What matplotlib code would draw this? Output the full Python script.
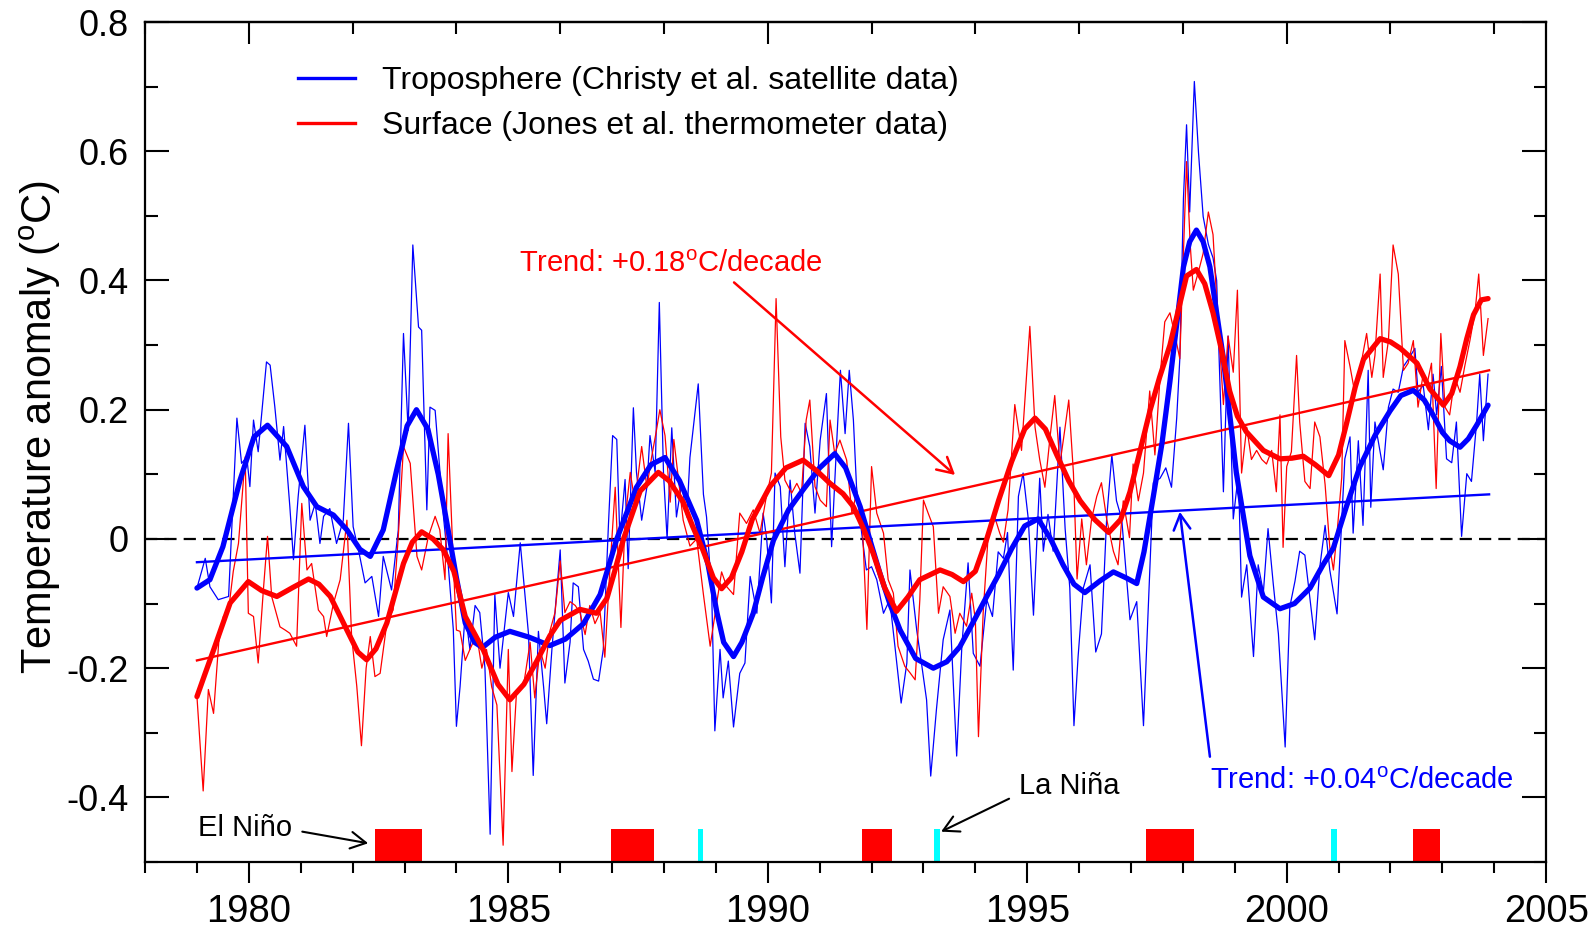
import matplotlib
matplotlib.use("Agg")
import matplotlib.pyplot as plt
from matplotlib.lines import Line2D
from matplotlib.ticker import MultipleLocator, FuncFormatter

plt.rcParams['font.family'] = ['Liberation Sans', 'DejaVu Sans']
plt.rcParams['mathtext.fontset'] = 'custom'
plt.rcParams['mathtext.rm'] = 'Liberation Sans'
plt.rcParams['axes.unicode_minus'] = False

# monthly-ish anomalies (deg C)
tropo_years = [
    1979.00, 1979.16, 1979.25, 1979.41, 1979.61, 1979.77, 1979.86, 1979.96, 1980.02, 1980.09,
    1980.18, 1980.34, 1980.41, 1980.50, 1980.60, 1980.67, 1980.79, 1980.86, 1980.95, 1981.08,
    1981.18, 1981.28, 1981.37, 1981.44, 1981.56, 1981.69, 1981.82, 1981.92, 1982.01, 1982.12,
    1982.24, 1982.37, 1982.50, 1982.59, 1982.75, 1982.88, 1982.98, 1983.07, 1983.16, 1983.27,
    1983.33, 1983.43, 1983.49, 1983.59, 1983.75, 1983.84, 1983.94, 1984.00, 1984.07, 1984.17,
    1984.26, 1984.36, 1984.45, 1984.55, 1984.65, 1984.74, 1984.84, 1985.00, 1985.10, 1985.23,
    1985.32, 1985.39, 1985.48, 1985.58, 1985.68, 1985.74, 1985.84, 1986.00, 1986.09, 1986.19,
    1986.25, 1986.35, 1986.45, 1986.54, 1986.64, 1986.74, 1986.83, 1986.93, 1987.01, 1987.09,
    1987.15, 1987.25, 1987.31, 1987.41, 1987.47, 1987.57, 1987.67, 1987.73, 1987.83, 1987.91,
    1987.99, 1988.06, 1988.15, 1988.24, 1988.34, 1988.44, 1988.50, 1988.66, 1988.76, 1988.82,
    1988.92, 1988.98, 1989.08, 1989.14, 1989.24, 1989.34, 1989.46, 1989.56, 1989.66, 1989.79,
    1989.91, 1989.98, 1990.07, 1990.14, 1990.24, 1990.33, 1990.43, 1990.52, 1990.62, 1990.72,
    1990.81, 1990.91, 1991.01, 1991.13, 1991.23, 1991.33, 1991.40, 1991.49, 1991.57, 1991.65,
    1991.71, 1991.81, 1991.90, 1992.00, 1992.10, 1992.23, 1992.35, 1992.45, 1992.57, 1992.68,
    1992.74, 1992.87, 1992.97, 1993.06, 1993.14, 1993.25, 1993.38, 1993.51, 1993.64, 1993.74,
    1993.86, 1993.96, 1994.09, 1994.22, 1994.33, 1994.44, 1994.54, 1994.62, 1994.73, 1994.83,
    1994.92, 1995.02, 1995.12, 1995.24, 1995.31, 1995.40, 1995.50, 1995.63, 1995.73, 1995.82,
    1995.90, 1995.98, 1996.08, 1996.21, 1996.32, 1996.43, 1996.53, 1996.63, 1996.72, 1996.82,
    1996.98, 1997.11, 1997.24, 1997.33, 1997.43, 1997.56, 1997.67, 1997.78, 1997.88, 1997.94,
    1998.01, 1998.07, 1998.13, 1998.22, 1998.30, 1998.39, 1998.49, 1998.58, 1998.65, 1998.78,
    1998.87, 1998.97, 1999.07, 1999.13, 1999.23, 1999.36, 1999.45, 1999.55, 1999.64, 1999.74,
    1999.84, 1999.97, 2000.06, 2000.16, 2000.25, 2000.35, 2000.45, 2000.54, 2000.64, 2000.74,
    2000.83, 2000.97, 2001.06, 2001.12, 2001.22, 2001.28, 2001.38, 2001.47, 2001.57, 2001.62,
    2001.70, 2001.80, 2001.86, 2001.96, 2002.05, 2002.15, 2002.25, 2002.36, 2002.47, 2002.53,
    2002.63, 2002.73, 2002.82, 2002.89, 2002.98, 2003.08, 2003.18, 2003.27, 2003.37, 2003.47,
    2003.56, 2003.66, 2003.72, 2003.79, 2003.88,
]
tropo_vals = [
    -0.076, -0.030, -0.074, -0.094, -0.089, 0.187, 0.117, 0.127, 0.081, 0.184,
    0.135, 0.274, 0.269, 0.205, 0.122, 0.174, 0.050, -0.032, 0.065, 0.176,
    0.029, 0.055, -0.007, 0.035, 0.047, -0.007, 0.029, 0.179, 0.019, -0.020,
    -0.068, -0.058, -0.120, -0.027, -0.079, 0.014, 0.318, 0.168, 0.455, 0.328,
    0.323, 0.045, 0.204, 0.199, 0.035, -0.038, -0.140, -0.290, -0.229, -0.114,
    -0.171, -0.103, -0.114, -0.200, -0.457, -0.086, -0.200, -0.083, -0.120, -0.006,
    -0.086, -0.148, -0.366, -0.143, -0.229, -0.286, -0.171, -0.017, -0.223, -0.160,
    -0.068, -0.074, -0.171, -0.189, -0.217, -0.220, -0.171, 0.023, 0.160, 0.154,
    0.000, 0.092, -0.046, 0.203, 0.103, 0.029, 0.080, 0.160, 0.103, 0.366,
    0.103, 0.000, 0.172, 0.034, 0.086, 0.034, 0.126, 0.240, 0.069, 0.034,
    -0.086, -0.297, -0.171, -0.246, -0.189, -0.291, -0.208, -0.192, -0.058, -0.115,
    0.040, -0.001, -0.099, 0.102, 0.081, -0.043, 0.091, 0.009, -0.053, 0.179,
    0.143, 0.040, 0.153, 0.225, -0.012, 0.153, 0.261, 0.163, 0.261, 0.184,
    0.081, 0.009, -0.048, -0.043, -0.063, -0.115, -0.094, -0.166, -0.254, -0.192,
    -0.048, -0.141, -0.197, -0.249, -0.367, -0.264, -0.156, -0.110, -0.336, -0.166,
    -0.037, -0.177, -0.197, -0.094, -0.120, -0.020, -0.030, 0.010, -0.203, 0.066,
    0.102, 0.031, -0.118, 0.094, -0.019, 0.038, -0.019, 0.173, 0.016, -0.076,
    -0.289, -0.182, -0.076, -0.040, -0.175, -0.147, 0.031, 0.130, 0.059, 0.031,
    -0.125, -0.097, -0.289, -0.111, 0.087, 0.094, 0.110, 0.080, 0.187, 0.279,
    0.527, 0.641, 0.506, 0.708, 0.598, 0.499, 0.456, 0.435, 0.400, 0.073,
    0.314, 0.031, 0.102, -0.090, -0.040, -0.182, -0.040, -0.083, 0.016, -0.069,
    -0.147, -0.322, -0.105, -0.065, -0.019, -0.025, -0.094, -0.156, -0.042, 0.021,
    -0.048, -0.116, 0.027, 0.124, 0.158, 0.009, 0.152, 0.021, 0.261, 0.049,
    0.181, 0.135, 0.107, 0.204, 0.232, 0.227, 0.267, 0.280, 0.295, 0.227,
    0.238, 0.169, 0.255, 0.192, 0.267, 0.124, 0.118, 0.181, 0.004, 0.101,
    0.089, 0.181, 0.255, 0.152, 0.255,
]

surf_years = [
    1979.00, 1979.12, 1979.22, 1979.32, 1979.42, 1979.51, 1979.61, 1979.70, 1979.80, 1979.93,
    1979.99, 1980.09, 1980.18, 1980.28, 1980.36, 1980.44, 1980.60, 1980.70, 1980.79, 1980.92,
    1981.02, 1981.12, 1981.21, 1981.34, 1981.44, 1981.50, 1981.63, 1981.76, 1981.89, 1981.98,
    1982.08, 1982.17, 1982.26, 1982.34, 1982.43, 1982.53, 1982.66, 1982.78, 1982.88, 1982.98,
    1983.11, 1983.24, 1983.33, 1983.46, 1983.59, 1983.68, 1983.78, 1983.84, 1983.94, 1984.00,
    1984.07, 1984.17, 1984.26, 1984.39, 1984.49, 1984.58, 1984.68, 1984.78, 1984.90, 1985.00,
    1985.07, 1985.16, 1985.29, 1985.42, 1985.51, 1985.61, 1985.71, 1985.80, 1985.90, 1986.00,
    1986.09, 1986.19, 1986.29, 1986.38, 1986.48, 1986.57, 1986.67, 1986.77, 1986.86, 1986.95,
    1987.06, 1987.17, 1987.25, 1987.35, 1987.44, 1987.57, 1987.67, 1987.76, 1987.85, 1987.92,
    1988.02, 1988.12, 1988.19, 1988.28, 1988.37, 1988.50, 1988.63, 1988.76, 1988.89, 1989.02,
    1989.11, 1989.21, 1989.34, 1989.46, 1989.59, 1989.72, 1989.85, 1989.96, 1990.07, 1990.16,
    1990.25, 1990.33, 1990.46, 1990.56, 1990.65, 1990.74, 1990.81, 1990.91, 1991.01, 1991.13,
    1991.20, 1991.29, 1991.39, 1991.52, 1991.62, 1991.71, 1991.81, 1991.91, 1992.00, 1992.10,
    1992.23, 1992.32, 1992.42, 1992.51, 1992.64, 1992.74, 1992.84, 1992.93, 1993.00, 1993.09,
    1993.19, 1993.29, 1993.38, 1993.51, 1993.61, 1993.70, 1993.83, 1993.93, 1994.00, 1994.06,
    1994.15, 1994.25, 1994.35, 1994.47, 1994.54, 1994.63, 1994.76, 1994.89, 1995.05, 1995.15,
    1995.24, 1995.34, 1995.44, 1995.53, 1995.63, 1995.73, 1995.80, 1995.89, 1995.96, 1996.05,
    1996.14, 1996.24, 1996.34, 1996.43, 1996.53, 1996.66, 1996.75, 1996.85, 1996.97, 1997.04,
    1997.14, 1997.24, 1997.36, 1997.46, 1997.56, 1997.65, 1997.75, 1997.85, 1997.94, 1998.07,
    1998.14, 1998.20, 1998.30, 1998.39, 1998.49, 1998.58, 1998.65, 1998.78, 1998.87, 1998.97,
    1999.05, 1999.13, 1999.23, 1999.32, 1999.42, 1999.52, 1999.61, 1999.71, 1999.80, 1999.87,
    1999.93, 2000.00, 2000.09, 2000.19, 2000.25, 2000.35, 2000.45, 2000.54, 2000.64, 2000.74,
    2000.83, 2000.90, 2000.97, 2001.06, 2001.12, 2001.22, 2001.31, 2001.41, 2001.54, 2001.64,
    2001.70, 2001.80, 2001.86, 2001.96, 2002.05, 2002.15, 2002.25, 2002.34, 2002.44, 2002.53,
    2002.63, 2002.70, 2002.79, 2002.88, 2002.97, 2003.05, 2003.14, 2003.24, 2003.34, 2003.43,
    2003.53, 2003.63, 2003.70, 2003.79, 2003.88,
]
surf_vals = [
    -0.244, -0.390, -0.233, -0.270, -0.160, -0.120, -0.110, -0.050, -0.007, 0.127,
    -0.115, -0.120, -0.192, -0.079, 0.004, -0.089, -0.136, -0.141, -0.146, -0.166,
    0.055, -0.048, -0.038, -0.110, -0.120, -0.151, -0.100, -0.063, 0.029, -0.150,
    -0.228, -0.320, -0.200, -0.151, -0.213, -0.208, -0.130, -0.110, 0.004, 0.143,
    0.117, -0.027, -0.048, 0.004, 0.035, 0.014, -0.063, 0.163, -0.038, -0.141,
    -0.143, -0.188, -0.171, -0.148, -0.200, -0.171, -0.229, -0.257, -0.474, -0.171,
    -0.360, -0.234, -0.229, -0.160, -0.246, -0.171, -0.200, -0.143, -0.114, -0.034,
    -0.114, -0.097, -0.103, -0.114, -0.148, -0.103, -0.131, -0.114, -0.183, -0.057,
    0.080, -0.137, 0.029, 0.103, 0.057, 0.143, 0.080, 0.126, 0.166, 0.200,
    0.160, 0.057, 0.154, 0.092, 0.029, -0.011, 0.000, -0.086, -0.166, -0.097,
    -0.051, -0.074, -0.086, 0.040, 0.024, 0.045, 0.009, 0.060, 0.102, 0.372,
    0.158, 0.091, 0.071, 0.086, 0.071, 0.184, 0.215, 0.081, 0.060, 0.050,
    0.184, 0.132, 0.153, 0.122, 0.040, 0.071, 0.045, -0.140, 0.112, 0.040,
    0.009, -0.063, -0.084, -0.166, -0.197, -0.207, -0.218, -0.094, 0.060, 0.040,
    0.019, -0.115, -0.074, -0.089, -0.146, -0.115, -0.135, -0.084, -0.125, -0.306,
    -0.115, 0.009, 0.040, 0.009, -0.005, 0.045, 0.208, 0.137, 0.329, 0.173,
    0.123, 0.080, 0.158, 0.222, 0.116, 0.173, 0.215, 0.102, -0.062, 0.031,
    -0.040, 0.031, 0.066, 0.087, 0.031, -0.019, -0.040, 0.059, 0.002, 0.116,
    0.059, 0.102, 0.229, 0.130, 0.251, 0.336, 0.350, 0.314, 0.279, 0.584,
    0.456, 0.385, 0.414, 0.442, 0.506, 0.471, 0.371, 0.208, 0.314, 0.258,
    0.385, 0.102, 0.173, 0.123, 0.137, 0.123, 0.116, 0.137, 0.073, 0.192,
    -0.013, 0.112, 0.135, 0.284, 0.181, 0.089, 0.078, 0.181, 0.158, 0.084,
    -0.013, -0.048, 0.009, 0.095, 0.307, 0.267, 0.227, 0.261, 0.318, 0.250,
    0.284, 0.410, 0.250, 0.307, 0.455, 0.410, 0.261, 0.272, 0.307, 0.204,
    0.255, 0.238, 0.272, 0.078, 0.318, 0.204, 0.192, 0.250, 0.227, 0.267,
    0.307, 0.352, 0.410, 0.284, 0.341,
]

# smoothed curves
tropo_smooth_years = [
    1979.00, 1979.25, 1979.50, 1979.83, 1980.10, 1980.36, 1980.73, 1981.05, 1981.31, 1981.63,
    1981.89, 1982.14, 1982.34, 1982.59, 1982.85, 1983.05, 1983.23, 1983.45, 1983.65, 1983.84,
    1984.00, 1984.17, 1984.35, 1984.50, 1984.75, 1985.03, 1985.40, 1985.80, 1986.10, 1986.45,
    1986.77, 1987.09, 1987.47, 1987.75, 1988.02, 1988.30, 1988.63, 1988.85, 1989.02, 1989.15,
    1989.34, 1989.50, 1989.72, 1989.90, 1990.11, 1990.40, 1990.68, 1991.00, 1991.29, 1991.50,
    1991.78, 1992.00, 1992.16, 1992.35, 1992.55, 1992.85, 1993.19, 1993.45, 1993.70, 1993.95,
    1994.22, 1994.45, 1994.70, 1994.95, 1995.21, 1995.45, 1995.69, 1995.90, 1996.11, 1996.40,
    1996.66, 1996.90, 1997.11, 1997.25, 1997.43, 1997.60, 1997.75, 1998.01, 1998.13, 1998.26,
    1998.39, 1998.52, 1998.78, 1999.03, 1999.29, 1999.55, 1999.87, 2000.15, 2000.45, 2000.70,
    2000.90, 2001.15, 2001.41, 2001.70, 2001.99, 2002.20, 2002.44, 2002.65, 2002.82, 2003.00,
    2003.14, 2003.34, 2003.50, 2003.66, 2003.88,
]
tropo_smooth = [
    -0.076, -0.063, -0.012, 0.091, 0.158, 0.176, 0.143, 0.081, 0.050, 0.037,
    0.014, -0.016, -0.027, 0.014, 0.107, 0.175, 0.200, 0.170, 0.100, 0.014,
    -0.060, -0.130, -0.160, -0.168, -0.152, -0.143, -0.152, -0.165, -0.155, -0.131,
    -0.086, 0.000, 0.080, 0.115, 0.126, 0.090, 0.029, -0.040, -0.114, -0.160,
    -0.182, -0.160, -0.115, -0.060, -0.002, 0.045, 0.076, 0.110, 0.132, 0.110,
    0.050, -0.010, -0.053, -0.100, -0.141, -0.185, -0.200, -0.190, -0.167, -0.130,
    -0.089, -0.055, -0.015, 0.020, 0.031, 0.000, -0.040, -0.070, -0.083, -0.065,
    -0.051, -0.060, -0.069, -0.020, 0.066, 0.150, 0.244, 0.421, 0.460, 0.478,
    0.460, 0.421, 0.279, 0.102, -0.026, -0.090, -0.108, -0.100, -0.076, -0.040,
    -0.014, 0.050, 0.112, 0.160, 0.198, 0.222, 0.230, 0.215, 0.192, 0.165,
    0.152, 0.142, 0.155, 0.176, 0.207,
]

surf_smooth_years = [
    1979.00, 1979.15, 1979.32, 1979.64, 1979.99, 1980.25, 1980.54, 1980.85, 1981.15, 1981.35,
    1981.57, 1981.89, 1982.10, 1982.27, 1982.45, 1982.66, 1982.98, 1983.15, 1983.33, 1983.55,
    1983.75, 1983.95, 1984.17, 1984.52, 1984.80, 1985.03, 1985.30, 1985.55, 1985.80, 1986.00,
    1986.38, 1986.70, 1986.90, 1987.05, 1987.22, 1987.54, 1987.89, 1988.10, 1988.37, 1988.55,
    1988.75, 1988.95, 1989.11, 1989.30, 1989.50, 1989.70, 1990.04, 1990.35, 1990.68, 1990.95,
    1991.20, 1991.45, 1991.65, 1991.85, 1992.03, 1992.25, 1992.48, 1992.70, 1992.93, 1993.32,
    1993.55, 1993.77, 1994.00, 1994.22, 1994.45, 1994.70, 1994.95, 1995.15, 1995.35, 1995.57,
    1995.80, 1996.02, 1996.30, 1996.57, 1996.80, 1996.98, 1997.17, 1997.37, 1997.55, 1997.75,
    1998.07, 1998.26, 1998.42, 1998.58, 1998.75, 1998.90, 1999.05, 1999.22, 1999.55, 1999.87,
    2000.10, 2000.32, 2000.55, 2000.81, 2001.00, 2001.16, 2001.32, 2001.48, 2001.80, 2002.00,
    2002.19, 2002.51, 2002.76, 2003.02, 2003.18, 2003.34, 2003.47, 2003.60, 2003.75, 2003.88,
]
surf_smooth = [
    -0.244, -0.210, -0.172, -0.099, -0.066, -0.080, -0.089, -0.075, -0.062, -0.070,
    -0.089, -0.141, -0.175, -0.187, -0.170, -0.130, -0.038, -0.005, 0.011, 0.000,
    -0.017, -0.050, -0.120, -0.172, -0.225, -0.249, -0.225, -0.189, -0.150, -0.126,
    -0.109, -0.115, -0.092, -0.050, 0.000, 0.074, 0.103, 0.090, 0.057, 0.020,
    -0.017, -0.060, -0.077, -0.060, -0.020, 0.030, 0.081, 0.110, 0.122, 0.105,
    0.086, 0.070, 0.050, 0.015, -0.022, -0.075, -0.112, -0.090, -0.063, -0.048,
    -0.055, -0.066, -0.050, 0.000, 0.060, 0.120, 0.170, 0.187, 0.170, 0.130,
    0.090, 0.059, 0.030, 0.010, 0.030, 0.073, 0.135, 0.200, 0.250, 0.300,
    0.407, 0.417, 0.395, 0.350, 0.290, 0.229, 0.190, 0.166, 0.137, 0.124,
    0.125, 0.128, 0.115, 0.098, 0.130, 0.181, 0.235, 0.278, 0.310, 0.305,
    0.295, 0.272, 0.232, 0.207, 0.225, 0.267, 0.310, 0.347, 0.370, 0.372,
]

# linear trends (end points of the fitted lines)
trend_years = [1979.0, 2003.9]
tropo_trend = [-0.036, 0.069]
surf_trend = [-0.188, 0.261]

# ENSO events along the bottom
elnino_start = [1982.43, 1986.97, 1991.81, 1997.29, 2002.44]
elnino_end = [1983.33, 1987.81, 1992.39, 1998.21, 2002.95]
lanina_mid = [1988.71, 1993.26, 2000.91]

fig = plt.figure(figsize=(15.94, 9.30), dpi=100)
ax = fig.add_axes([0.091, 0.0731, 0.879, 0.9032])

elnino_len = [e - s for s, e in zip(elnino_start, elnino_end)]
ax.bar(elnino_start, 0.051, width=elnino_len, bottom=-0.5, align='edge',
       color='#ff0000', zorder=1)
ax.bar(lanina_mid, 0.051, width=0.1, bottom=-0.5, align='center', color='#00ffff', zorder=1)

ax.axhline(0, color='black', lw=1.6, ls=(0, (5.5, 3.2)), zorder=1.5)

ax.plot(tropo_years, tropo_vals, color='#0000ff', lw=0.9, zorder=2)
ax.plot(surf_years, surf_vals, color='#ff0000', lw=0.9, zorder=2.1)
ax.plot(trend_years, tropo_trend, color='#0000ff', lw=1.7, zorder=3)
ax.plot(trend_years, surf_trend, color='#ff0000', lw=1.7, zorder=3)
ax.plot(tropo_smooth_years, tropo_smooth, color='#0000ff', lw=3.8, zorder=4,
        solid_capstyle='round', solid_joinstyle='round')
ax.plot(surf_smooth_years, surf_smooth, color='#ff0000', lw=3.8, zorder=4.1,
        solid_capstyle='round', solid_joinstyle='round')

ax.set_xlim(1978, 2005)
ax.set_ylim(-0.5, 0.8)
ax.xaxis.set_major_locator(MultipleLocator(5))
ax.xaxis.set_minor_locator(MultipleLocator(1))
ax.yaxis.set_major_locator(MultipleLocator(0.2))
ax.yaxis.set_minor_locator(MultipleLocator(0.1))
ax.yaxis.set_major_formatter(FuncFormatter(lambda v, p: f"{round(v, 2) + 0.0:g}"))

ax.tick_params(axis='x', which='major', direction='out', length=15, width=1.5,
               labelsize=27.5, pad=8, top=False)
ax.tick_params(axis='x', which='minor', direction='out', length=8, width=1.5, top=False)
ax.tick_params(axis='y', which='major', direction='in', length=17, width=1.5,
               right=True, labelsize=26, pad=12)
ax.tick_params(axis='y', which='minor', direction='in', length=9, width=1.5, right=True)
for s in ax.spines.values():
    s.set_linewidth(1.6)

top = ax.secondary_xaxis('top')
top.xaxis.set_major_locator(MultipleLocator(10))
top.xaxis.set_minor_locator(MultipleLocator(2))
top.tick_params(which='major', direction='in', length=16, width=1.5, labeltop=False)
top.tick_params(which='minor', direction='in', length=8.5, width=1.5)
top.spines['top'].set_linewidth(1.6)

fig.text(0.0255, 0.541, 'Temperature anomaly ($^{\\rm o}$C)', rotation=90,
         ha='center', va='center', fontsize=30)

handles = [Line2D([], [], color='#0000ff', lw=2.4), Line2D([], [], color='#ff0000', lw=2.4)]
ax.legend(handles, ['Troposphere (Christy et al. satellite data)',
                    'Surface (Jones et al. thermometer data)'],
          loc='upper left', bbox_to_anchor=(0.109, 0.948), frameon=False, fontsize=23,
          handlelength=1.8, handletextpad=0.85, labelspacing=0.48, borderpad=0,
          borderaxespad=0)

head = '->,head_length=0.55,head_width=0.3'
ax.text(1985.20, 0.425, 'Trend: +0.18$^{\\rm o}$C/decade', color='#ff0000', fontsize=21,
        ha='left', va='center')
ax.annotate('', xy=(1993.61, 0.099), xytext=(1989.35, 0.397),
            arrowprops=dict(arrowstyle=head, color='#ff0000', lw=1.8,
                            shrinkA=0, shrinkB=0, mutation_scale=20))
ax.text(1998.52, -0.374, 'Trend: +0.04$^{\\rm o}$C/decade', color='#0000ff', fontsize=21,
        ha='left', va='center')
ax.annotate('', xy=(1997.94, 0.042), xytext=(1998.52, -0.337),
            arrowprops=dict(arrowstyle=head, color='#0000ff', lw=1.8,
                            shrinkA=0, shrinkB=0, mutation_scale=20))
ax.text(1979.02, -0.448, 'El Niño', fontsize=21, ha='left', va='center')
ax.annotate('', xy=(1982.30, -0.471), xytext=(1981.03, -0.453),
            arrowprops=dict(arrowstyle=head, color='black', lw=1.5,
                            shrinkA=0, shrinkB=0, mutation_scale=20))
ax.text(1994.84, -0.382, 'La Niña', fontsize=21, ha='left', va='center')
ax.annotate('', xy=(1993.34, -0.453), xytext=(1994.65, -0.402),
            arrowprops=dict(arrowstyle=head, color='black', lw=1.5,
                            shrinkA=0, shrinkB=0, mutation_scale=20))

fig.savefig('out.png', dpi=100)
